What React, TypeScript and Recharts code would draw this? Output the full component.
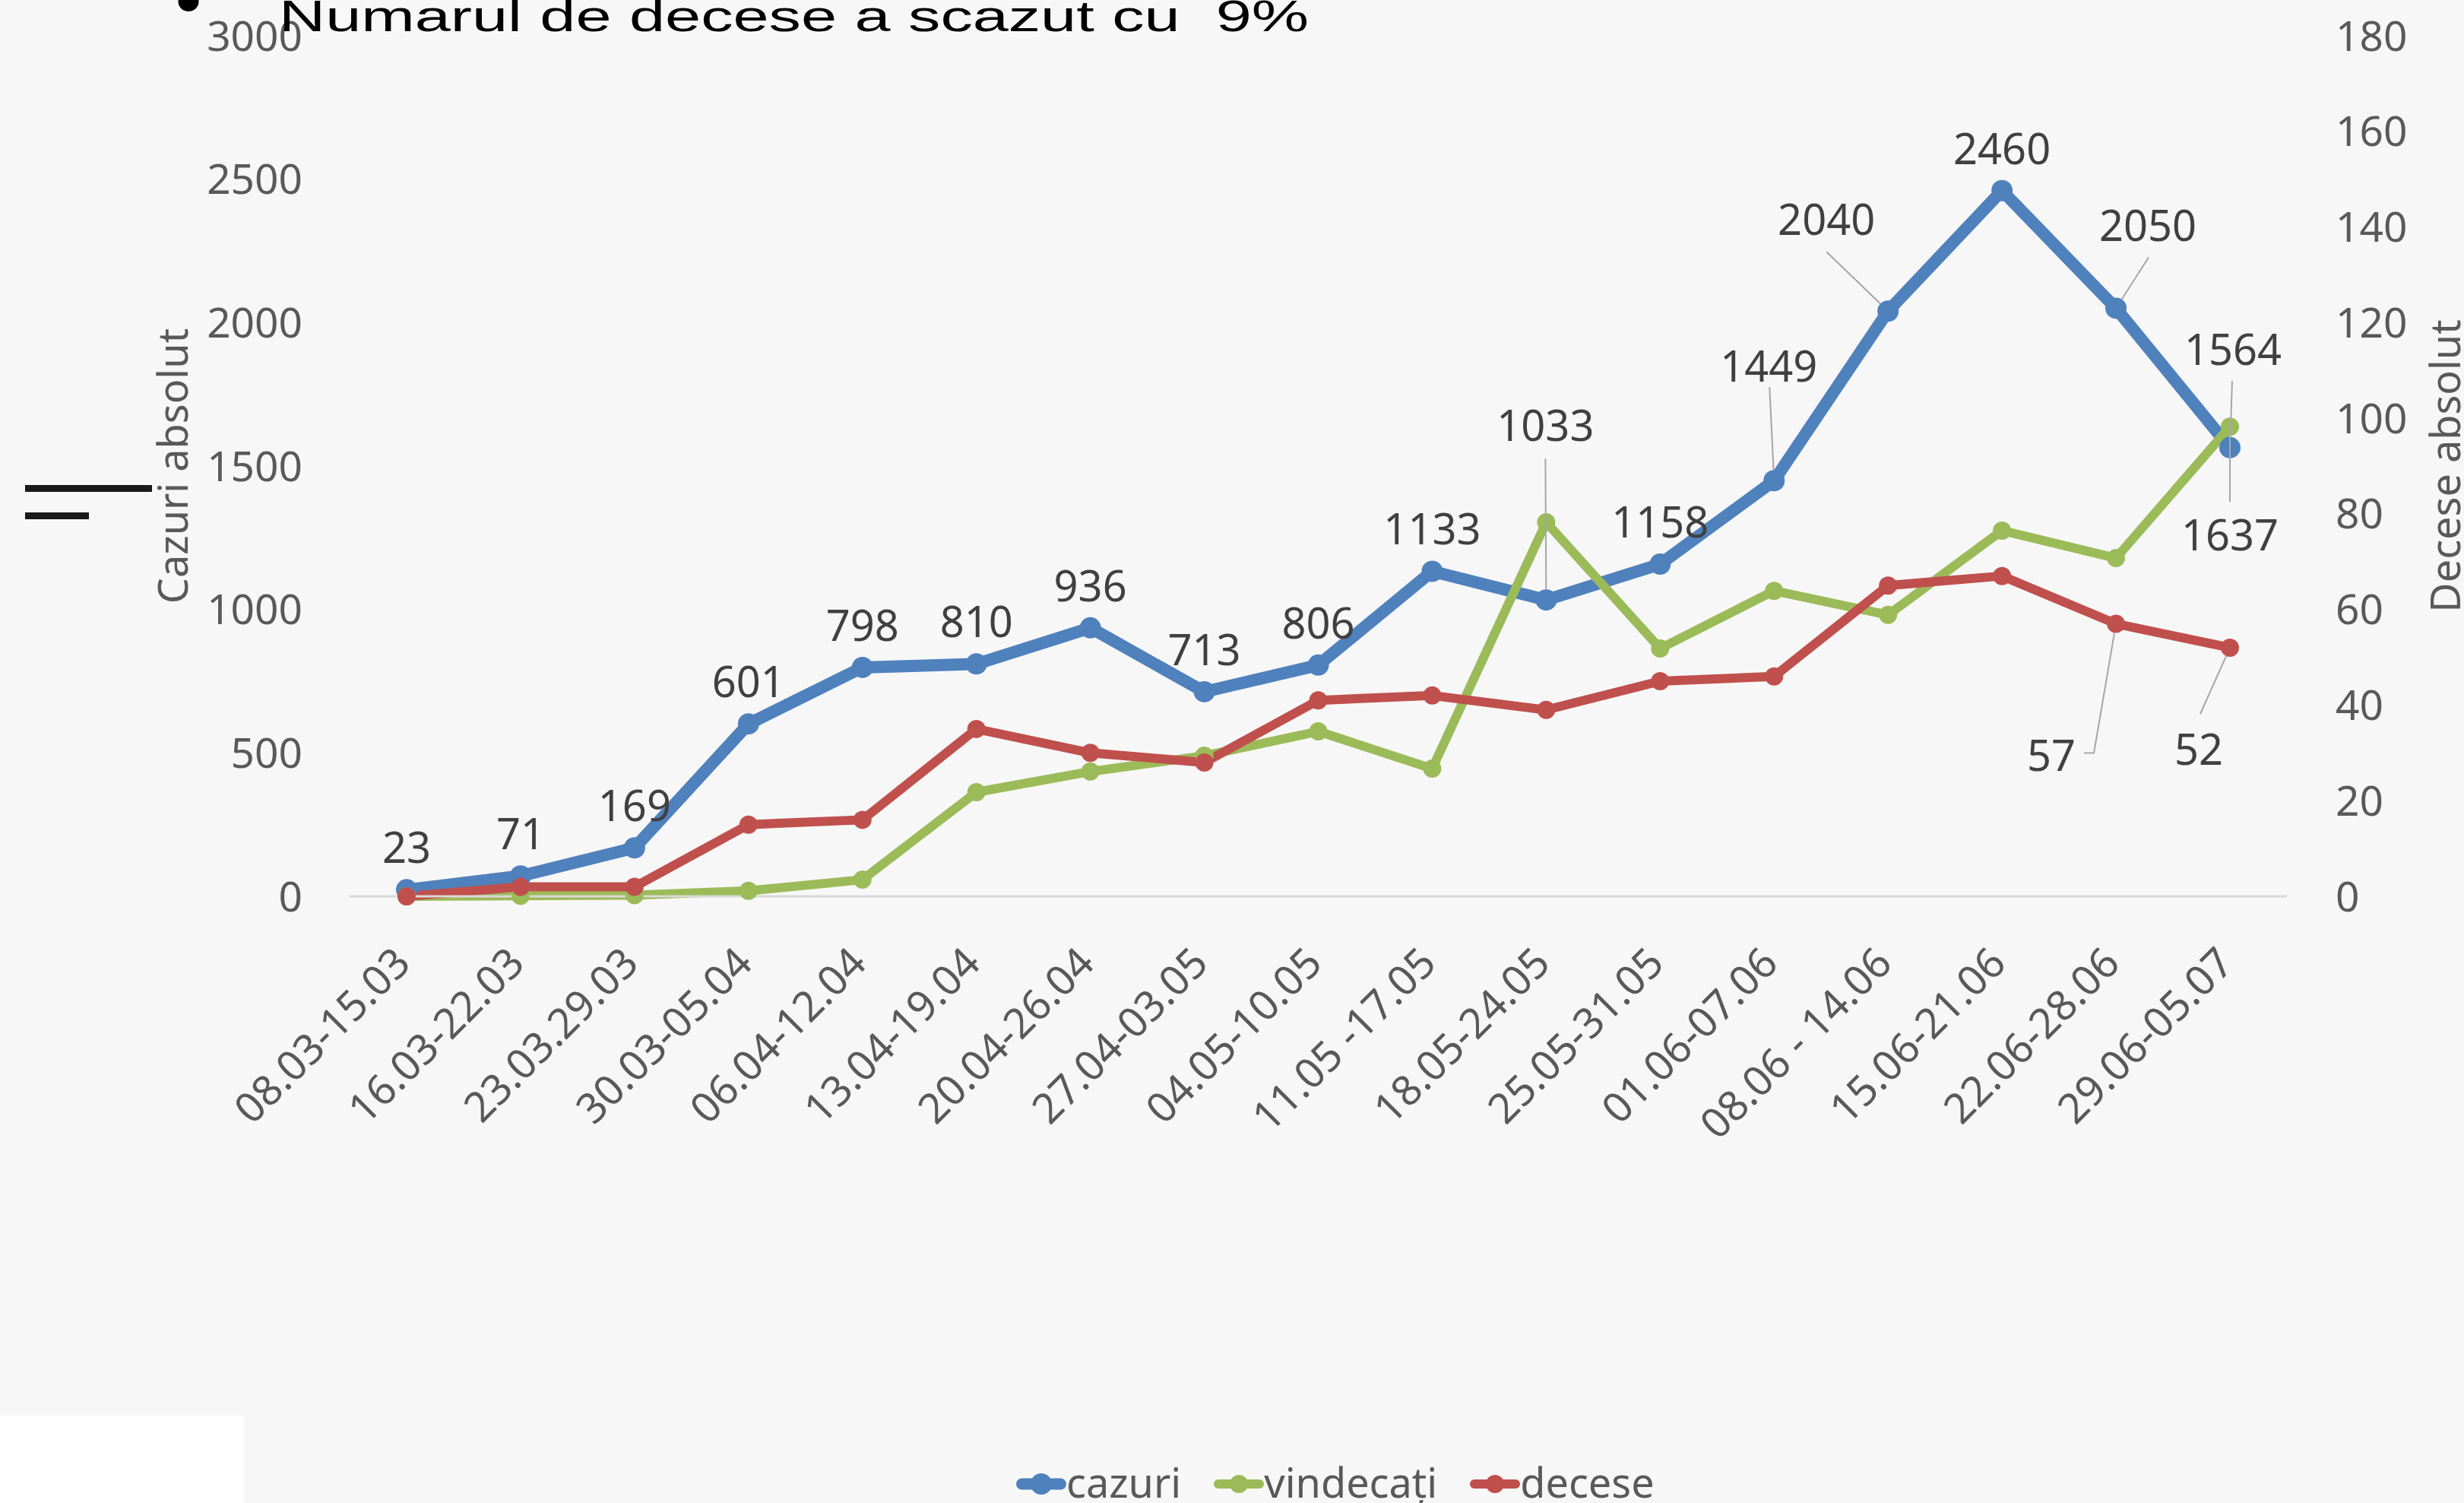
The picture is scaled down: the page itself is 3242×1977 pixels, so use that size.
import React from 'react';
import { LineChart, Line, XAxis, YAxis, Legend, LabelList } from 'recharts';

const weeks = [
  '08.03-15.03', '16.03-22.03', '23.03.29.03', '30.03-05.04', '06.04-12.04', '13.04-19.04',
  '20.04-26.04', '27.04-03.05', '04.05-10.05', '11.05 -17.05', '18.05-24.05', '25.05-31.05',
  '01.06-07.06', '08.06 - 14.06', '15.06-21.06', '22.06-28.06', '29.06-05.07',
];
const cazuri = [23, 71, 169, 601, 798, 810, 936, 713, 806, 1133, 1033, 1158, 1449, 2040, 2460, 2050, 1564];
const vindecati = [0, 2, 4, 19, 58, 363, 435, 490, 575, 445, 1304, 864, 1065, 981, 1275, 1179, 1637];
const decese = [0, 2, 2, 15, 16, 35, 30, 28, 41, 42, 39, 45, 46, 65, 67, 57, 52];
const leftTicks = [0, 500, 1000, 1500, 2000, 2500, 3000];
const rightTicks = [0, 20, 40, 60, 80, 100, 120, 140, 160, 180];
const seriesOrder = ['cazuri', 'vindecați', 'decese'];

const data = weeks.map((week, i) => ({
  week,
  cazuri: cazuri[i],
  vindecati: vindecati[i],
  decese: decese[i],
}));

const FONT = '"Noto Sans", sans-serif';
const AXIS_GREY = '#595959';
const LABEL_GREY = '#404040';
const LEADER = '#A6A6A6';
const BLUE = '#4F81BD';
const GREEN = '#9BBB59';
const RED = '#C0504D';

// label placement relative to its point; lead = leader line start relative to label centre
type LabelPos = { dx: number; dy: number; lead?: number[][] };

const blueLabels: Record<number, LabelPos> = {
  10: { dx: -1, dy: -229, lead: [[0, 43]] },
  12: { dx: -7, dy: -150, lead: [[1, 27]] },
  13: { dx: -81, dy: -120, lead: [[0, 42]] },
  15: { dx: 42, dy: -108, lead: [[1, 41]] },
  16: { dx: 4, dy: -129, lead: [[-1, 41]] },
};
const greenLabels: Record<number, LabelPos> = {
  16: { dx: 0, dy: 143, lead: [[0, -44]] },
};
const redLabels: Record<number, LabelPos> = {
  15: { dx: -85, dy: 173, lead: [[43, -3], [56, -3]] },
  16: { dx: -41, dy: 134, lead: [[2, -47]] },
};

const makeLabel = (layout: Record<number, LabelPos>, r: number, showAll: boolean) => (props: any) => {
  const { index, value } = props;
  const vb = props.viewBox || {};
  const x = vb.x ?? props.x;
  const y = vb.y ?? props.y;
  if (x == null || y == null) return null;
  const pos = layout[index] ?? (showAll ? { dx: 0, dy: -55 } : null);
  if (!pos) return null;
  const cx = x + pos.dx;
  const cy = y + pos.dy;
  let leader = null;
  if (pos.lead) {
    const pts = pos.lead.map(([a, b]) => [cx + a, cy + b]);
    const [lx, ly] = pts[pts.length - 1];
    const d = Math.hypot(x - lx, y - ly) || 1;
    pts.push([x - ((x - lx) / d) * r, y - ((y - ly) / d) * r]);
    leader = (
      <polyline points={pts.map((p) => p.join(',')).join(' ')} fill="none" stroke={LEADER} strokeWidth={2} />
    );
  }
  return (
    <g key={`lbl-${index}`}>
      {leader}
      <text x={cx} y={cy + 20} textAnchor="middle" fill={LABEL_GREY} fontSize={56} fontFamily={FONT}>
        {value}
      </text>
    </g>
  );
};

const WeekTick = (props: any) => {
  const { x, y, payload } = props;
  return (
    <g transform={`translate(${x + 8},${y + 91}) rotate(-45)`}>
      <text x={0} y={0} textAnchor="end" fill={AXIS_GREY} fontSize={55} fontFamily={FONT} style={{ whiteSpace: 'pre' }}>
        {payload.value}
      </text>
    </g>
  );
};

const leftTitle = (props: any) => {
  const vb = props.viewBox;
  const cy = vb.y + vb.height / 2;
  return (
    <text x={vb.x + 247} y={cy} transform={`rotate(-90, ${vb.x + 247}, ${cy})`} textAnchor="middle" fill={AXIS_GREY} fontSize={54} fontFamily={FONT}>
      Cazuri absolut
    </text>
  );
};

const rightTitle = (props: any) => {
  const vb = props.viewBox;
  const cy = vb.y + vb.height / 2;
  return (
    <text x={vb.x + 228} y={cy} transform={`rotate(-90, ${vb.x + 228}, ${cy})`} textAnchor="middle" fill={AXIS_GREY} fontSize={54} fontFamily={FONT}>
      Decese absolut
    </text>
  );
};

const legendWidths: Record<string, number[]> = {
  [BLUE]: [15, 14],
  [GREEN]: [12, 12],
  [RED]: [12, 12],
};

const renderLegend = (props: any) => {
  const items = [...(props.payload || [])].sort(
    (a: any, b: any) => seriesOrder.indexOf(a.value) - seriesOrder.indexOf(b.value),
  );
  return (
    <div style={{ display: 'flex', alignItems: 'center', fontFamily: FONT, fontSize: 54, lineHeight: '60px', color: AXIS_GREY }}>
      {items.map((it: any, i: number) => {
        const [w, r] = legendWidths[it.color] || [12, 12];
        return (
          <div key={it.value} style={{ display: 'flex', alignItems: 'center', marginRight: i < 2 ? 43 : 0 }}>
            <svg width={66} height={60}>
              <line x1={w / 2} y1={33} x2={66 - w / 2} y2={33} stroke={it.color} strokeWidth={w} strokeLinecap="round" />
              <circle cx={33} cy={33} r={r} fill={it.color} />
            </svg>
            <span>{it.value}</span>
          </div>
        );
      })}
    </div>
  );
};

const App: React.FC = () => (
  <div style={{ position: 'relative', width: 3242, height: 1977, background: '#F7F7F7', overflow: 'hidden' }}>
    <style>{'body{margin:0;overflow:hidden}'}</style>
    <LineChart width={3242} height={1977} data={data} margin={{ top: 47, right: 0, bottom: 0, left: 0 }}>
      <XAxis
        dataKey="week"
        height={798}
        padding={{ left: 75, right: 75 }}
        axisLine={{ stroke: '#D9D9D9', strokeWidth: 3 }}
        tickLine={false}
        tickSize={0}
        tickMargin={0}
        interval={0}
        tick={<WeekTick />}
      />
      <YAxis
        yAxisId="left"
        width={460}
        domain={[0, 3000]}
        ticks={leftTicks}
        axisLine={false}
        tickLine={false}
        tickSize={0}
        tickMargin={62}
        tick={{ fill: AXIS_GREY, fontSize: 55, fontFamily: FONT }}
        label={{ content: leftTitle }}
      />
      <YAxis
        yAxisId="right"
        orientation="right"
        width={233}
        domain={[0, 180]}
        ticks={rightTicks}
        axisLine={false}
        tickLine={false}
        tickSize={0}
        tickMargin={64}
        tick={{ fill: AXIS_GREY, fontSize: 55, fontFamily: FONT, textAnchor: 'start' }}
        label={{ content: rightTitle }}
      />
      <Legend
        layout="horizontal"
        verticalAlign="middle"
        align="center"
        content={renderLegend}
        wrapperStyle={{ top: 1919, left: 1337, width: 1000 }}
      />
      <Line
        yAxisId="left"
        type="linear"
        dataKey="cazuri"
        name="cazuri"
        stroke={BLUE}
        strokeWidth={16}
        strokeLinejoin="round"
        dot={{ r: 14, fill: BLUE, stroke: BLUE, strokeWidth: 0 }}
        activeDot={false}
        isAnimationActive={false}
      >
        <LabelList dataKey="cazuri" content={makeLabel(blueLabels, 14, true)} />
      </Line>
      <Line
        yAxisId="left"
        type="linear"
        dataKey="vindecati"
        name="vindecați"
        stroke={GREEN}
        strokeWidth={12}
        strokeLinejoin="round"
        dot={{ r: 12, fill: GREEN, stroke: GREEN, strokeWidth: 0 }}
        activeDot={false}
        isAnimationActive={false}
      >
        <LabelList dataKey="vindecati" content={makeLabel(greenLabels, 12, false)} />
      </Line>
      <Line
        yAxisId="right"
        type="linear"
        dataKey="decese"
        name="decese"
        stroke={RED}
        strokeWidth={12}
        strokeLinejoin="round"
        dot={{ r: 12, fill: RED, stroke: RED, strokeWidth: 0 }}
        activeDot={false}
        isAnimationActive={false}
      >
        <LabelList dataKey="decese" content={makeLabel(redLabels, 12, false)} />
      </Line>
    </LineChart>
    <svg width={3242} height={1977} style={{ position: 'absolute', left: 0, top: 0, pointerEvents: 'none' }}>
      <ellipse cx={248} cy={2} rx={13.5} ry={13} fill="#000" />
      <text
        x={367}
        y={41}
        fontFamily='"Liberation Sans", Arial, sans-serif'
        fontSize={58}
        fill="#000"
        textLength={1355}
        lengthAdjust="spacingAndGlyphs"
        style={{ whiteSpace: 'pre' }}
      >
        Numarul de decese a scazut cu  9%
      </text>
      <rect x={33} y={638} width={167} height={9} fill="#1a1a1a" />
      <rect x={33} y={674} width={84} height={9} fill="#1a1a1a" />
      <rect x={0} y={1862} width={321} height={115} fill="#FFFFFF" />
    </svg>
  </div>
);

export default App;
